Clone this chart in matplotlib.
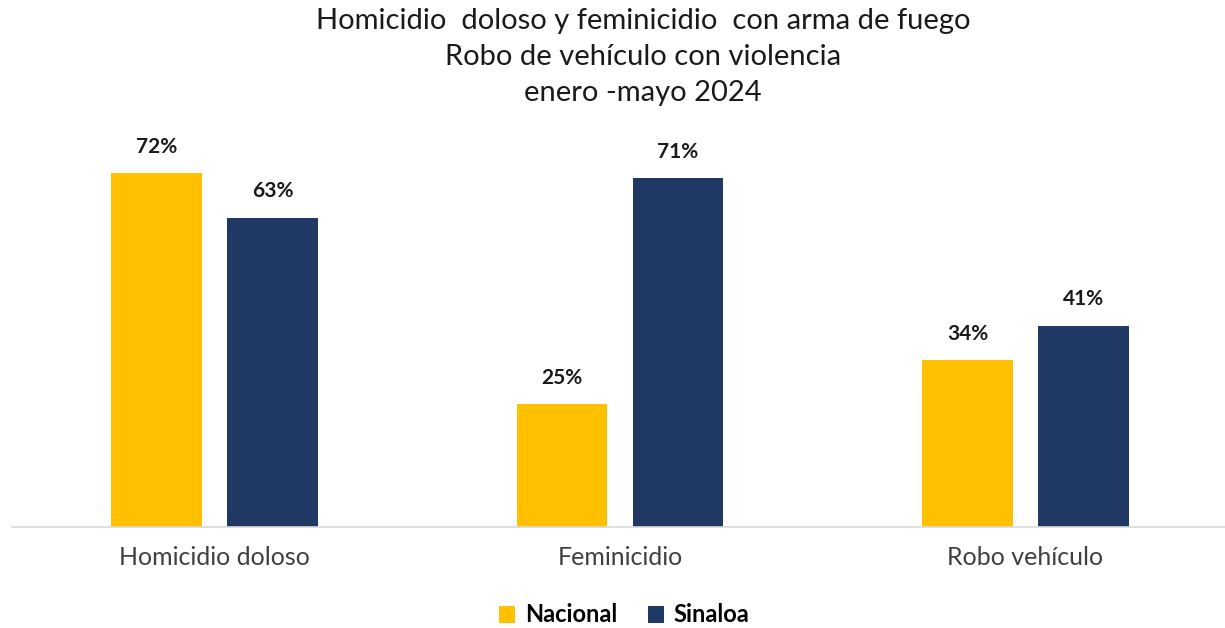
import matplotlib.pyplot as plt
import numpy as np

plt.rcParams['font.family'] = ['Lato', 'DejaVu Sans']

categorias = ['Homicidio doloso', 'Feminicidio', 'Robo vehículo']
nacional = [72, 25, 34]
sinaloa = [63, 71, 41]
titulo = 'Homicidio  doloso y feminicidio  con arma de fuego\nRobo de vehículo con violencia\nenero -mayo 2024'

amarillo = '#FFC000'
azul = '#203864'

fig = plt.figure(figsize=(12.25, 6.28), dpi=100)
ax = fig.add_axes([12 / 1225, 101 / 628, 1214 / 1225, 393 / 628])

x = np.arange(len(categorias))
ancho = 0.224
sep = 0.286
b1 = ax.bar(x - sep / 2, nacional, ancho, color=amarillo, label='Nacional')
b2 = ax.bar(x + sep / 2, sinaloa, ancho, color=azul, label='Sinaloa')

for barras, vals in ((b1, nacional), (b2, sinaloa)):
    for b, v in zip(barras, vals):
        ax.annotate(f'{v}%', (b.get_x() + b.get_width() / 2, v),
                    xytext=(0, 19), textcoords='offset points',
                    ha='center', va='center', fontsize=15, fontweight='bold',
                    color='#1a1a1a')

ax.set_xlim(-0.5, 2.495)
ax.set_ylim(0, 80)
ax.set_yticks([])
ax.set_xticks(x)
ax.set_xticklabels(categorias, fontsize=18, color='#404040')
ax.tick_params(axis='x', length=0, pad=14)
for s in ('top', 'right', 'left'):
    ax.spines[s].set_visible(False)
ax.spines['bottom'].set_color('#D9D9D9')
ax.spines['bottom'].set_linewidth(1.2)

fig.text(643 / 1225, 1 - 57 / 628, titulo, ha='center', va='center',
         fontsize=21, color='#1a1a1a', linespacing=1.5)

fig.legend(loc='center', bbox_to_anchor=(624 / 1225, 1 - 615 / 628), ncol=2,
           frameon=False, handlelength=0.7, handleheight=0.7, handletextpad=0.4,
           columnspacing=1.3, prop={'size': 17, 'weight': 'bold'})

fig.savefig('out.png', dpi=100, facecolor='white')
